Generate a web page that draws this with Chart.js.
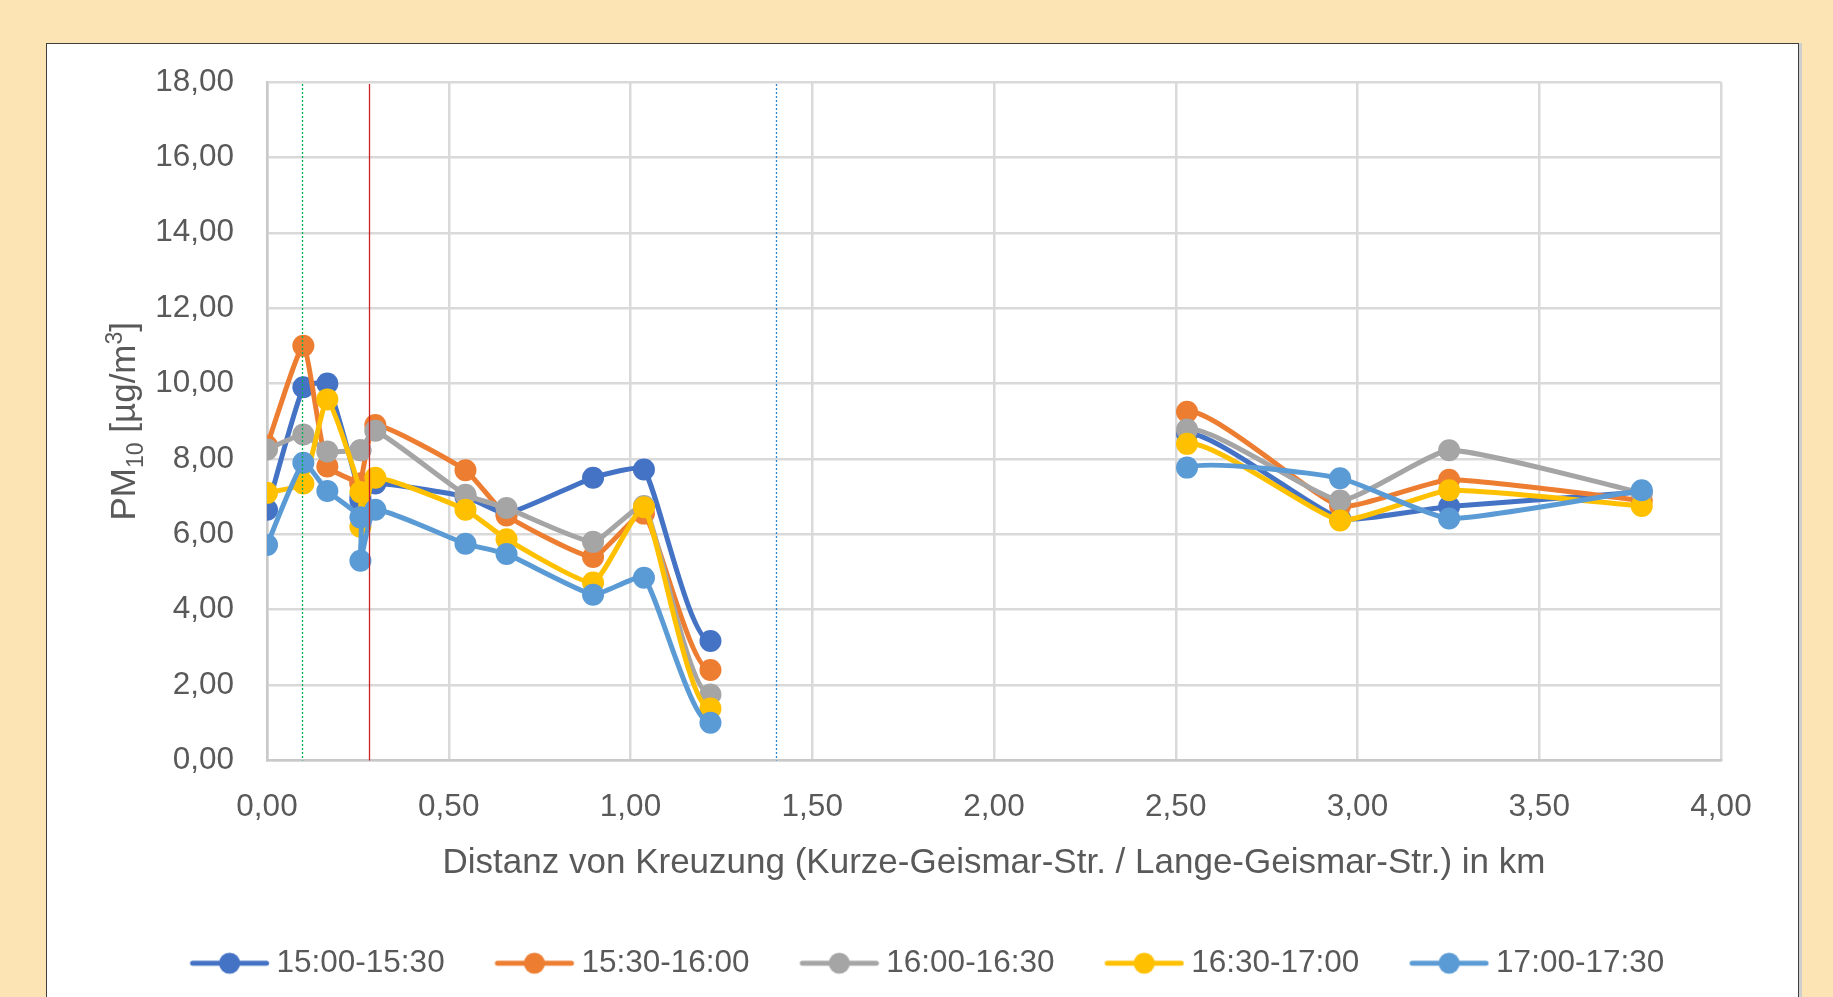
<!DOCTYPE html>
<html>
<head>
<meta charset="utf-8">
<script src="https://cdn.jsdelivr.net/npm/chart.js@4.4.1/dist/chart.umd.min.js"></script>
<style>
  html, body { margin: 0; padding: 0; background: #fde4b4; overflow: hidden; }
  #panel {
    position: absolute; left: 46px; top: 43px;
    width: 1751px; height: 980px;
    background: #fff; border: 1px solid #3f3f3f;
    box-shadow: 3px 0 0 #cfcfcf;
  }
  #canvas { display: block; }
</style>
</head>
<body>
<div id="panel"><canvas id="canvas" width="1751" height="954"></canvas></div>
<script>
// distance from the crossing in km (same sampling points for all runs)
let distKm = [0, 0.10, 0.166, 0.257, 0.257, 0.298, 0.546, 0.659, 0.897, 1.037, 1.22, 2.531, 2.952, 3.252, 3.782];

// PM10 in µg/m³ per half hour
let run1 = [6.65, 9.90, 10.00, 7.00, 6.90, 7.35, 7.00, 6.55, 7.50, 7.72, 3.17, 8.67, 6.42, 6.74, 7.12];
let run2 = [8.35, 11.00, 7.80, 7.35, 7.35, 8.90, 7.70, 6.50, 5.40, 6.55, 2.40, 9.25, 6.75, 7.45, 6.90];
let run3 = [8.25, 8.65, 8.20, 8.23, 8.23, 8.75, 7.05, 6.70, 5.80, 6.75, 1.75, 8.78, 6.90, 8.23, 7.10];
let run4 = [7.10, 7.35, 9.58, 7.12, 6.20, 7.50, 6.65, 5.87, 4.72, 6.72, 1.38, 8.40, 6.37, 7.17, 6.75];
let run5 = [5.72, 7.90, 7.15, 6.45, 5.30, 6.65, 5.75, 5.48, 4.40, 4.85, 1.00, 7.77, 7.49, 6.42, 7.17];

let runs = [run1, run2, run3, run4, run5];
let labels = ['15:00-15:30', '15:30-16:00', '16:00-16:30', '16:30-17:00', '17:00-17:30'];
let colors = ['#4472c4', '#ed7d31', '#a5a5a5', '#ffc000', '#5b9bd5'];

// marked positions along the street (km)
let markKm = [0.097, 0.28, 1.40];
let markColor = ['#00b050', '#cc2222', '#2e86d0'];
let markDash = [[2, 2], [], [2, 2]];

let textColor = '#595959';
let font = 'Liberation Sans, Arial, sans-serif';

// little line + dot icon for the legend (Excel style), drawn a bit right of centre
function legendIcon(color) {
  let c = document.createElement('canvas');
  c.width = 98; c.height = 26;
  let g = c.getContext('2d');
  let cx = 57.75;
  g.strokeStyle = color;
  g.lineWidth = 5;
  g.lineCap = 'round';
  g.beginPath(); g.moveTo(cx - 37, 13); g.lineTo(cx + 37, 13); g.stroke();
  g.fillStyle = color;
  g.beginPath(); g.arc(cx, 13, 10.5, 0, Math.PI * 2); g.fill();
  return c;
}
let icons = colors.map(legendIcon);

let datasets = runs.map((vals, i) => ({
  label: labels[i],
  data: vals.map((v, j) => ({ x: distKm[j], y: v })),
  borderColor: colors[i],
  backgroundColor: colors[i],
  borderWidth: 5,
  pointRadius: 11,
  pointHoverRadius: 11,
  pointBorderWidth: 0,
  tension: 0.15,
  spanGaps: 1,   // break the line over the part that was not measured
  order: runs.length - i
}));

// vertical marker lines
let markers = {
  id: 'markers',
  afterDatasetsDraw(chart) {
    let ctx = chart.ctx, a = chart.chartArea, xs = chart.scales.x;
    markKm.forEach((km, i) => {
      let px = Math.round(xs.getPixelForValue(km)) + 0.5;
      ctx.save();
      ctx.strokeStyle = markColor[i];
      ctx.lineWidth = 1.3;
      ctx.setLineDash(markDash[i]);
      ctx.beginPath(); ctx.moveTo(px, a.top + 2); ctx.lineTo(px, a.bottom); ctx.stroke();
      ctx.restore();
    });
  }
};

// y axis title with sub- and superscript
let yTitle = {
  id: 'yTitle',
  afterDraw(chart) {
    let ctx = chart.ctx, a = chart.chartArea;
    let parts = [
      { t: 'PM', s: 35, dy: 0 },
      { t: '10', s: 23, dy: 8 },
      { t: ' [µg/m', s: 35, dy: 0 },
      { t: '3', s: 23, dy: -13 },
      { t: ']', s: 35, dy: 0 }
    ];
    ctx.save();
    ctx.fillStyle = textColor;
    ctx.textBaseline = 'alphabetic';
    let total = 0;
    parts.forEach(p => { ctx.font = p.s + 'px ' + font; p.w = ctx.measureText(p.t).width; total += p.w; });
    ctx.translate(76, (a.top + a.bottom) / 2);
    ctx.rotate(-Math.PI / 2);
    let x = -total / 2;
    parts.forEach(p => {
      ctx.font = p.s + 'px ' + font;
      ctx.fillText(p.t, x, 12 + p.dy);
      x += p.w;
    });
    ctx.restore();
  }
};

let options = {
  type: 'line',
  data: { datasets: datasets },
  options: {
    responsive: false,
    animation: false,
    layout: { padding: { left: 77, right: 77, top: 38, bottom: 9 } },
    scales: {
      x: {
        type: 'linear',
        min: 0, max: 4,
        afterFit: s => { s.height = 146; },
        ticks: {
          stepSize: 0.5,
          padding: 5,
          color: textColor,
          font: { family: font, size: 31.5 },
          callback: v => v.toFixed(2).replace('.', ',')
        },
        grid: { color: '#d9d9d9', lineWidth: 2.5, tickLength: 23, tickColor: 'rgba(0,0,0,0)' },
        border: { color: '#c9c9c9', width: 2.5 },
        title: {
          display: true,
          text: 'Distanz von Kreuzung (Kurze-Geismar-Str. / Lange-Geismar-Str.) in km',
          color: textColor,
          font: { family: font, size: 35 },
          padding: { top: 0, bottom: 22 }
        }
      },
      y: {
        min: 0, max: 18,
        afterFit: s => { s.width = 143; },
        ticks: {
          stepSize: 2,
          padding: 5,
          color: textColor,
          font: { family: font, size: 31.5 },
          callback: v => v.toFixed(2).replace('.', ',')
        },
        grid: { color: '#d9d9d9', lineWidth: 2.5, tickLength: 28, tickColor: 'rgba(0,0,0,0)' },
        border: { color: '#c9c9c9', width: 2.5 }
      }
    },
    plugins: {
      legend: {
        position: 'bottom',
        labels: {
          usePointStyle: true,
          pointStyleWidth: 80,
          padding: 41,
          color: textColor,
          font: { family: font, size: 31.5 },
          sort: (a, b) => a.datasetIndex - b.datasetIndex,
          generateLabels: chart => {
            let items = Chart.defaults.plugins.legend.labels.generateLabels(chart);
            items.forEach(it => { it.pointStyle = icons[it.datasetIndex]; });
            return items;
          }
        }
      },
      tooltip: { enabled: false }
    }
  },
  plugins: [markers, yTitle]
};

let chart = new Chart(document.getElementById('canvas'), options);
</script>
</body>
</html>
